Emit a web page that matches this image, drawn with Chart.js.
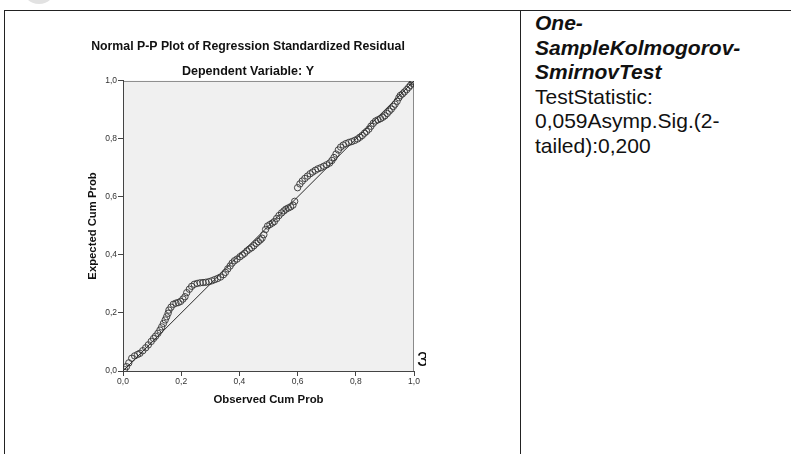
<!DOCTYPE html>
<html>
<head>
<meta charset="utf-8">
<script src="https://cdn.jsdelivr.net/npm/chart.js@4.4.1/dist/chart.umd.min.js"></script>
<style>
  body { margin: 0; width: 791px; height: 454px; background: #fff; position: relative; overflow: hidden; font-family: Arial, "Liberation Sans", sans-serif; }
  .logo { position: absolute; left: 22px; top: -30px; width: 34px; height: 34px; border-radius: 50%; background: #e2e2e2; }
  .line-top { position: absolute; left: 4px; top: 10px; width: 800px; height: 0; border-top: 1.5px solid #222; }
  .line-left { position: absolute; left: 4px; top: 10px; width: 0; height: 460px; border-left: 1.5px solid #222; }
  .line-mid { position: absolute; left: 520px; top: 10px; width: 0; height: 460px; border-left: 1.5px solid #222; }
  #chartBox { position: absolute; left: 82px; top: 0; width: 342px; height: 440px; }
  .ks { position: absolute; left: 535px; top: 11px; width: 245px; font-size: 21px; line-height: 24.5px; color: #111; }
  .ks b { font-style: italic; }
  .stray { position: absolute; left: 417px; top: 348px; font-size: 20px; color: #111; width: 9px; overflow: hidden; }
</style>
</head>
<body>
<div class="logo"></div>
<div class="line-top"></div>
<div class="line-left"></div>
<div class="line-mid"></div>
<div id="chartBox"><canvas id="ppChart"></canvas></div>
<div class="stray">3</div>
<div class="ks"><b>One-SampleKolmogorov-SmirnovTest</b><br>TestStatistic: 0,059Asymp.Sig.(2-tailed):0,200</div>

<script>
// значения
const observedProb = [
  0.005, 0.012, 0.020, 0.030, 0.040, 0.050, 0.058, 0.068, 0.078, 0.087,
  0.097, 0.105, 0.112, 0.120, 0.127, 0.133, 0.139, 0.145, 0.150, 0.155,
  0.158, 0.165, 0.173, 0.182, 0.190, 0.198, 0.206, 0.213, 0.219, 0.228,
  0.236, 0.245, 0.255, 0.265, 0.275, 0.285, 0.295, 0.305, 0.315, 0.325,
  0.335, 0.345, 0.352, 0.360, 0.368, 0.375, 0.383, 0.392, 0.402, 0.410,
  0.418, 0.426, 0.434, 0.442, 0.450, 0.458, 0.465, 0.472, 0.478, 0.484,
  0.490, 0.497, 0.505, 0.513, 0.520, 0.528, 0.536, 0.545, 0.553, 0.560,
  0.568, 0.576, 0.584, 0.590, 0.600, 0.608, 0.616, 0.625, 0.634, 0.643,
  0.652, 0.661, 0.670, 0.680, 0.690, 0.700, 0.710, 0.718, 0.725, 0.732,
  0.740, 0.748, 0.757, 0.766, 0.776, 0.786, 0.796, 0.806, 0.814, 0.822,
  0.830, 0.837, 0.845, 0.852, 0.860, 0.868, 0.876, 0.885, 0.893, 0.900,
  0.908, 0.915, 0.922, 0.929, 0.935, 0.942, 0.948, 0.953, 0.960, 0.967,
  0.975, 0.982, 0.988, 0.994, 0.998
];
const expectedProb = [
  0.005, 0.015, 0.028, 0.044, 0.052, 0.057, 0.061, 0.070, 0.080, 0.090,
  0.102, 0.112, 0.120, 0.130, 0.141, 0.152, 0.164, 0.176, 0.187, 0.199,
  0.210, 0.220, 0.230, 0.234, 0.236, 0.240, 0.248, 0.256, 0.270, 0.282,
  0.292, 0.299, 0.302, 0.304, 0.305, 0.306, 0.308, 0.311, 0.315, 0.319,
  0.324, 0.332, 0.340, 0.352, 0.362, 0.372, 0.380, 0.386, 0.394, 0.400,
  0.406, 0.414, 0.420, 0.425, 0.432, 0.440, 0.446, 0.452, 0.458, 0.470,
  0.488, 0.500, 0.505, 0.510, 0.515, 0.526, 0.536, 0.545, 0.552, 0.558,
  0.562, 0.566, 0.572, 0.585, 0.632, 0.645, 0.655, 0.664, 0.672, 0.680,
  0.686, 0.692, 0.697, 0.701, 0.706, 0.711, 0.717, 0.726, 0.736, 0.748,
  0.762, 0.772, 0.779, 0.784, 0.788, 0.791, 0.795, 0.800, 0.806, 0.812,
  0.820, 0.826, 0.834, 0.844, 0.854, 0.862, 0.866, 0.870, 0.875, 0.880,
  0.888, 0.896, 0.903, 0.912, 0.920, 0.930, 0.942, 0.950, 0.955, 0.962,
  0.970, 0.978, 0.985, 0.992, 0.997
];
// диагональ (линия нормального распределения)
const refLineX = [0, 1];
const refLineY = [0, 1];
const axisTicks = [0, 0.2, 0.4, 0.6, 0.8, 1.0];

let chart;

const plotBackground = {
  id: "plotBackground",
  beforeDraw(c) {
    const { ctx, chartArea: a } = c;
    ctx.save();
    ctx.fillStyle = "#f0f0f0";
    ctx.fillRect(a.left, a.top, a.right - a.left, a.bottom - a.top);
    ctx.strokeStyle = "#8a8a8a";
    ctx.lineWidth = 1;
    ctx.beginPath();
    ctx.moveTo(a.left, a.top + 0.5);
    ctx.lineTo(a.right - 0.5, a.top + 0.5);
    ctx.lineTo(a.right - 0.5, a.bottom);
    ctx.stroke();
    ctx.restore();
  },
};

function fmt(v) {
  return v.toFixed(1).replace(".", ",");
}

function renderChart() {
  const ctx = document.getElementById("ppChart").getContext("2d");
  if (chart) chart.destroy();

  const points = observedProb.map((x, i) => ({ x: x, y: expectedProb[i] }));
  const diag = refLineX.map((x, i) => ({ x: x, y: refLineY[i] }));

  const tickFont = { family: "Arial", size: 8.5 };
  const axisCommon = {
    type: "linear",
    min: 0,
    max: 1,
    afterBuildTicks: (s) => { s.ticks = axisTicks.map((v) => ({ value: v })); },
    grid: { drawOnChartArea: false, drawTicks: true, tickLength: 5, color: "#444" },
    border: { display: true, color: "#444", width: 1 },
  };

  chart = new Chart(ctx, {
    type: "scatter",
    data: {
      datasets: [
        {
          data: points,
          pointRadius: 3.2,
          pointBorderWidth: 0.9,
          pointBorderColor: "#333",
          pointBackgroundColor: "rgba(0,0,0,0)",
          showLine: false,
          order: 1,
        },
        {
          data: diag,
          showLine: true,
          borderColor: "#2a2a2a",
          borderWidth: 1,
          pointRadius: 0,
          order: 2,
        },
      ],
    },
    options: {
      responsive: true,
      maintainAspectRatio: false,
      animation: false,
      layout: { padding: { left: 0, right: 10, top: 0, bottom: 0 } },
      plugins: {
        legend: { display: false },
        tooltip: { enabled: false },
        title: {
          display: true,
          text: "Normal P-P Plot of Regression Standardized Residual",
          color: "#111",
          font: { family: "Arial", size: 12.3, weight: "bold" },
          padding: { top: 39.6, bottom: 10.1 },
        },
        subtitle: {
          display: true,
          text: "Dependent Variable: Y",
          color: "#111",
          font: { family: "Arial", size: 12.5, weight: "bold" },
          padding: { top: 0, bottom: 1.5 },
        },
      },
      scales: {
        x: {
          ...axisCommon,
          position: "bottom",
          afterFit: (s) => { s.height = 69; },
          ticks: { font: tickFont, color: "#333", padding: 1, maxRotation: 0, callback: (v) => fmt(v) },
          title: {
            display: true,
            text: "Observed Cum Prob",
            color: "#111",
            font: { family: "Arial", size: 11.4, weight: "bold" },
            padding: { top: 0, bottom: 33.2 },
          },
        },
        y: {
          ...axisCommon,
          position: "left",
          afterFit: (s) => { s.width = 41; },
          ticks: { font: tickFont, color: "#333", padding: 1, callback: (v) => fmt(v) },
          title: {
            display: true,
            text: "Expected Cum Prob",
            color: "#111",
            font: { family: "Arial", size: 11.3, weight: "bold" },
            padding: { top: 4.2, bottom: 0 },
          },
        },
      },
    },
    plugins: [plotBackground],
  });
}

window.onload = renderChart;
</script>
</body>
</html>
